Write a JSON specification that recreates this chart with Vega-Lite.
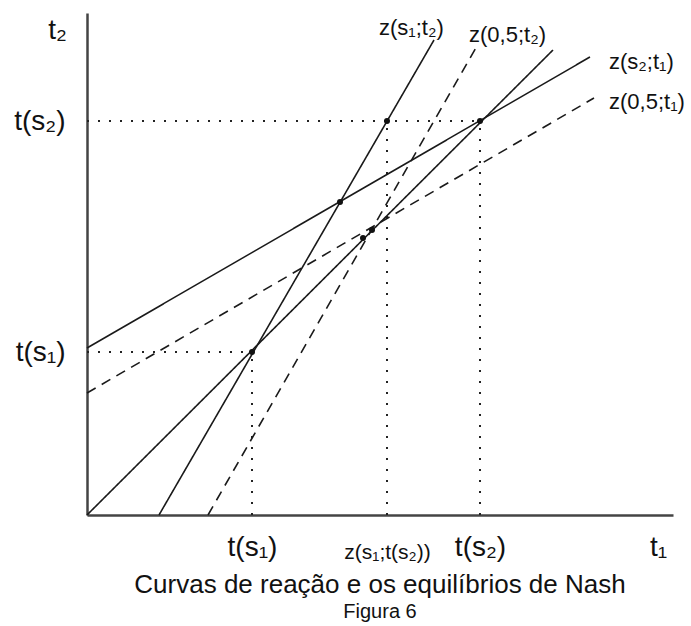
{
  "$schema": "https://vega.github.io/schema/vega-lite/v6.json",
  "width": 586,
  "height": 502,
  "autosize": {"type": "none"},
  "padding": {"left": 87, "top": 13, "right": 18, "bottom": 111},
  "background": "white",
  "title": {
    "text": "Curvas de reação e os equilíbrios de Nash",
    "subtitle": "Figura 6",
    "orient": "bottom",
    "anchor": "middle",
    "offset": 10,
    "font": "Liberation Sans",
    "fontSize": 26,
    "fontWeight": "normal",
    "color": "#111",
    "subtitleFont": "Liberation Sans",
    "subtitleFontSize": 20,
    "subtitleColor": "#111",
    "subtitlePadding": 4
  },
  "config": {
    "view": {"stroke": null},
    "axis": {
      "grid": false,
      "ticks": false,
      "domainColor": "#444",
      "domainWidth": 2.5,
      "labelFont": "Liberation Sans",
      "labelColor": "#111",
      "labelFontSize": 28,
      "titleFont": "Liberation Sans",
      "titleColor": "#111",
      "titleFontSize": 28,
      "titleFontWeight": "normal"
    }
  },
  "datasets": {
    "curvas": [
      {"curva": "45°", "tipo": "s", "t1_a": 0, "t2_a": 0, "t1_b": 466, "t2_b": 465},
      {"curva": "z(s₁;t₂)", "tipo": "s", "t1_a": 72, "t2_a": 0, "t1_b": 347, "t2_b": 475},
      {"curva": "z(0,5;t₂)", "tipo": "0,5", "t1_a": 121, "t2_a": 0, "t1_b": 390, "t2_b": 469},
      {"curva": "z(s₂;t₁)", "tipo": "s", "t1_a": 0, "t2_a": 167, "t1_b": 503, "t2_b": 458},
      {"curva": "z(0,5;t₁)", "tipo": "0,5", "t1_a": 0, "t2_a": 122, "t1_b": 507, "t2_b": 417}
    ],
    "guias": [
      {"t1_a": 0, "t2_a": 394, "t1_b": 393, "t2_b": 394},
      {"t1_a": 393, "t2_a": 0, "t1_b": 393, "t2_b": 394},
      {"t1_a": 0, "t2_a": 163, "t1_b": 165, "t2_b": 163},
      {"t1_a": 165, "t2_a": 0, "t1_b": 165, "t2_b": 163},
      {"t1_a": 300, "t2_a": 0, "t1_b": 300, "t2_b": 394}
    ],
    "equilibrios": [
      {"t1": 165, "t2": 163},
      {"t1": 253, "t2": 313},
      {"t1": 276, "t2": 277},
      {"t1": 285, "t2": 285},
      {"t1": 300, "t2": 394},
      {"t1": 393, "t2": 394}
    ],
    "rotulos": [
      {"texto": "z(s₁;t₂)", "t1": 292, "t2": 487},
      {"texto": "z(0,5;t₂)", "t1": 382, "t2": 480},
      {"texto": "z(s₂;t₁)", "t1": 522, "t2": 453},
      {"texto": "z(0,5;t₁)", "t1": 522, "t2": 413}
    ]
  },
  "layer": [
    {
      "data": {"name": "guias"},
      "mark": {"type": "rule", "color": "#222", "strokeWidth": 2, "strokeDash": [2, 9]},
      "encoding": {
        "x": {
          "field": "t1_a",
          "type": "quantitative",
          "scale": {"domain": [0, 586], "nice": false, "zero": false},
          "axis": {
            "values": [165, 300, 393],
            "labelExpr": "datum.value == 165 ? 't(s₁)' : datum.value == 300 ? 'z(s₁;t(s₂))' : 't(s₂)'",
            "labelFontSize": {"condition": {"test": "datum.value == 300", "value": 21}, "value": 28},
            "labelBaseline": "middle",
            "labelPadding": {"condition": {"test": "datum.value == 300", "value": 37}, "value": 32},
            "labelFlush": false,
            "labelOverlap": false,
            "title": "t₁",
            "titleX": 571,
            "titleY": 18,
            "titleAlign": "center",
            "titleBaseline": "top"
          }
        },
        "x2": {"field": "t1_b"},
        "y": {
          "field": "t2_a",
          "type": "quantitative",
          "scale": {"domain": [0, 502], "nice": false, "zero": false},
          "axis": {
            "values": [163, 394],
            "labelExpr": "datum.value == 163 ? 't(s₁)' : 't(s₂)'",
            "labelPadding": 22,
            "labelBaseline": "middle",
            "labelFlush": false,
            "labelOverlap": false,
            "title": "t₂",
            "titleAngle": 0,
            "titleX": -30,
            "titleY": 17,
            "titleAlign": "center",
            "titleBaseline": "middle"
          }
        },
        "y2": {"field": "t2_b"}
      }
    },
    {
      "data": {"name": "curvas"},
      "mark": {"type": "rule", "color": "#1a1a1a", "strokeWidth": 1.6},
      "encoding": {
        "x": {"field": "t1_a", "type": "quantitative"},
        "x2": {"field": "t1_b"},
        "y": {"field": "t2_a", "type": "quantitative"},
        "y2": {"field": "t2_b"},
        "strokeDash": {
          "field": "tipo",
          "type": "nominal",
          "scale": {"domain": ["s", "0,5"], "range": [[1, 0], [10, 7]]},
          "legend": null
        },
        "detail": {"field": "curva"}
      }
    },
    {
      "data": {"name": "equilibrios"},
      "mark": {"type": "circle", "color": "#111", "opacity": 1, "size": 36},
      "encoding": {
        "x": {"field": "t1", "type": "quantitative"},
        "y": {"field": "t2", "type": "quantitative"}
      }
    },
    {
      "data": {"name": "rotulos"},
      "mark": {"type": "text", "font": "Liberation Sans", "fontSize": 22, "color": "#111", "baseline": "middle", "align": "left"},
      "encoding": {
        "x": {"field": "t1", "type": "quantitative"},
        "y": {"field": "t2", "type": "quantitative"},
        "text": {"field": "texto"}
      }
    }
  ]
}
